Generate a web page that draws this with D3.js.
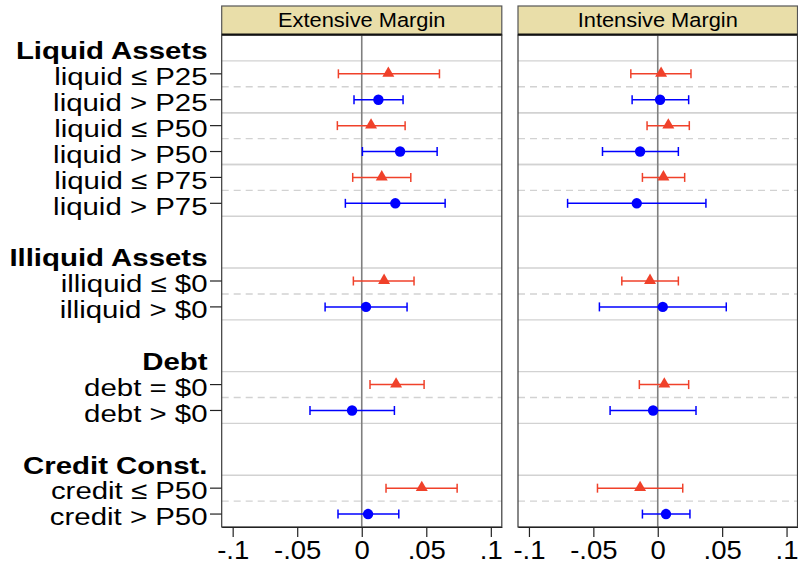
<!DOCTYPE html>
<html>
<head>
<meta charset="utf-8">
<script src="https://cdn.jsdelivr.net/npm/d3@7"></script>
<style>
  html, body { margin: 0; padding: 0; background: #fff; }
  svg { display: block; font-family: "Liberation Sans", Arial, Helvetica, sans-serif; }
</style>
</head>
<body>
<svg id="chart" width="798" height="566"></svg>
<script>
// ---- data ----
const rowLabels = [
  "Liquid Assets", "liquid ≤ P25", "liquid > P25", "liquid ≤ P50", "liquid > P50", "liquid ≤ P75", "liquid > P75",
  "", "Illiquid Assets", "illiquid ≤ $0", "illiquid > $0",
  "", "Debt", "debt = $0", "debt > $0",
  "", "Credit Const.", "credit ≤ P50", "credit > P50"
];
const headings = ["Liquid Assets", "Illiquid Assets", "Debt", "Credit Const."];
const estRows = ["liquid ≤ P25", "liquid > P25", "liquid ≤ P50", "liquid > P50", "liquid ≤ P75", "liquid > P75",
  "illiquid ≤ $0", "illiquid > $0", "debt = $0", "debt > $0", "credit ≤ P50", "credit > P50"];

const extEst = [0.0206, 0.0129, 0.0072, 0.0297, 0.0155, 0.0260, 0.0173, 0.0033, 0.0266, -0.0075, 0.0465, 0.0049];
const extLo  = [-0.0181, -0.0060, -0.0189, 0.0005, -0.0070, -0.0127, -0.0065, -0.0284, 0.0064, -0.0401, 0.0188, -0.0184];
const extHi  = [0.0602, 0.0320, 0.0336, 0.0584, 0.0380, 0.0646, 0.0405, 0.0351, 0.0483, 0.0253, 0.0739, 0.0287];

const intEst = [0.0026, 0.0018, 0.0082, -0.0137, 0.0044, -0.0163, -0.0060, 0.0039, 0.0051, -0.0036, -0.0137, 0.0064];
const intLo  = [-0.0209, -0.0199, -0.0083, -0.0429, -0.0119, -0.0700, -0.0279, -0.0453, -0.0143, -0.0370, -0.0468, -0.0119];
const intHi  = [0.0258, 0.0240, 0.0245, 0.0160, 0.0209, 0.0374, 0.0160, 0.0532, 0.0240, 0.0297, 0.0194, 0.0250];

const panelTitles = ["Extensive Margin", "Intensive Margin"];
const tickValues = [-0.1, -0.05, 0, 0.05, 0.1];
const tickLabels = ["-.1", "-.05", "0", ".05", ".1"];

// ---- layout ----
const svg = d3.select("#chart");
const plotTop = 35, plotBottom = 527;
const headerTop = 6;
const panels = [
  { x0: 221.7, x1: 501.8, title: panelTitles[0], est: extEst, lo: extLo, hi: extHi },
  { x0: 518, x1: 797.5, title: panelTitles[1], est: intEst, lo: intLo, hi: intHi }
];
const red = "#f0412a", blue = "#0000ff";

const y = d3.scaleBand().domain(d3.range(rowLabels.length)).range([plotTop, plotBottom]).padding(0);
const yc = i => y(i) + y.bandwidth() / 2;
const rowIndex = lbl => rowLabels.indexOf(lbl);

// gridline positions: solid above each pair, dashed between, solid below
const lines = [];
for (let k = 0; k < estRows.length; k += 2) {
  const i = rowIndex(estRows[k]);
  lines.push({ y: y(i), dash: false });
  lines.push({ y: y(i + 1), dash: true });
  lines.push({ y: y(i + 1) + y.bandwidth(), dash: false });
}

panels.forEach((p, pi) => {
  const x = d3.scaleLinear().domain([-0.1085, 0.1085]).range([p.x0, p.x1]);
  const g = svg.append("g");

  // gridlines
  g.selectAll("line.grid").data(lines).join("line")
    .attr("x1", p.x0).attr("x2", p.x1)
    .attr("y1", d => d.y).attr("y2", d => d.y)
    .attr("stroke", "#d2d2d2").attr("stroke-width", 1.4)
    .attr("stroke-dasharray", d => d.dash ? "7,5" : null);

  // zero line
  g.append("line").attr("x1", x(0)).attr("x2", x(0)).attr("y1", plotTop).attr("y2", plotBottom)
    .attr("stroke", "#7f7f7f").attr("stroke-width", 1.6);

  // error bars & markers
  const data = estRows.map((lbl, k) => ({
    yy: yc(rowIndex(lbl)), est: p.est[k], lo: p.lo[k], hi: p.hi[k], tri: k % 2 === 0
  }));
  const eb = g.selectAll("g.eb").data(data).join("g")
    .attr("stroke", d => d.tri ? red : blue).attr("stroke-width", 1.5);
  eb.append("line").attr("x1", d => x(d.lo)).attr("x2", d => x(d.hi)).attr("y1", d => d.yy).attr("y2", d => d.yy);
  eb.append("line").attr("x1", d => x(d.lo)).attr("x2", d => x(d.lo)).attr("y1", d => d.yy - 4.5).attr("y2", d => d.yy + 4.5);
  eb.append("line").attr("x1", d => x(d.hi)).attr("x2", d => x(d.hi)).attr("y1", d => d.yy - 4.5).attr("y2", d => d.yy + 4.5);

  const tri = d3.symbol().type(d3.symbolTriangle).size(62);
  g.selectAll("path.tri").data(data.filter(d => d.tri)).join("path")
    .attr("d", tri).attr("transform", d => `translate(${x(d.est)},${d.yy - 0.5})`)
    .attr("fill", red);
  g.selectAll("circle.pt").data(data.filter(d => !d.tri)).join("circle")
    .attr("cx", d => x(d.est)).attr("cy", d => d.yy).attr("r", 5.2).attr("fill", blue);

  // frame
  g.append("rect").attr("x", p.x0).attr("y", plotTop).attr("width", p.x1 - p.x0).attr("height", plotBottom - plotTop)
    .attr("fill", "none").attr("stroke", "#3a3a3a").attr("stroke-width", 1.2);

  // header strip
  g.append("rect").attr("x", p.x0).attr("y", headerTop).attr("width", p.x1 - p.x0).attr("height", plotTop - headerTop)
    .attr("fill", "#e9dea9").attr("stroke", "#555").attr("stroke-width", 1.2);
  g.append("line").attr("x1", p.x0).attr("x2", p.x1).attr("y1", plotTop - 0.5).attr("y2", plotTop - 0.5)
    .attr("stroke", "#111").attr("stroke-width", 2);
  g.append("text").attr("transform", `translate(${(p.x0 + p.x1) / 2},26.5) scale(1.12,1)`)
    .attr("text-anchor", "middle").attr("font-size", 19.5).attr("fill", "#000").text(p.title);

  // bottom axis
  const axis = d3.axisBottom(x).tickValues(tickValues).tickFormat((d, i) => tickLabels[i])
    .tickSize(10).tickSizeOuter(0).tickPadding(4);
  const ag = svg.append("g").attr("transform", `translate(0,${plotBottom})`).call(axis);
  ag.select(".domain").attr("stroke", "#222").attr("stroke-width", 1.2);
  ag.selectAll(".tick line").attr("stroke", "#222").attr("stroke-width", 1.2);
  ag.selectAll(".tick text").attr("font-size", 25).attr("fill", "#000")
    .attr("font-family", "'Liberation Sans', Arial, Helvetica, sans-serif")
    .attr("transform", "scale(1.1,1)");
});

// left labels & ticks
const lg = svg.append("g");
rowLabels.forEach((lbl, i) => {
  if (!lbl) return;
  const isHead = headings.includes(lbl);
  lg.append("text")
    .attr("transform", `translate(207.5,${yc(i) + 11.3}) scale(1.2,1)`)
    .attr("text-anchor", "end").attr("font-size", 24.5)
    .attr("font-weight", isHead ? "bold" : "normal").attr("fill", "#000").text(lbl);
  if (!isHead) {
    lg.append("line").attr("x1", 210).attr("x2", panels[0].x0).attr("y1", yc(i)).attr("y2", yc(i))
      .attr("stroke", "#222").attr("stroke-width", 1.2);
  }
});
</script>
</body>
</html>
